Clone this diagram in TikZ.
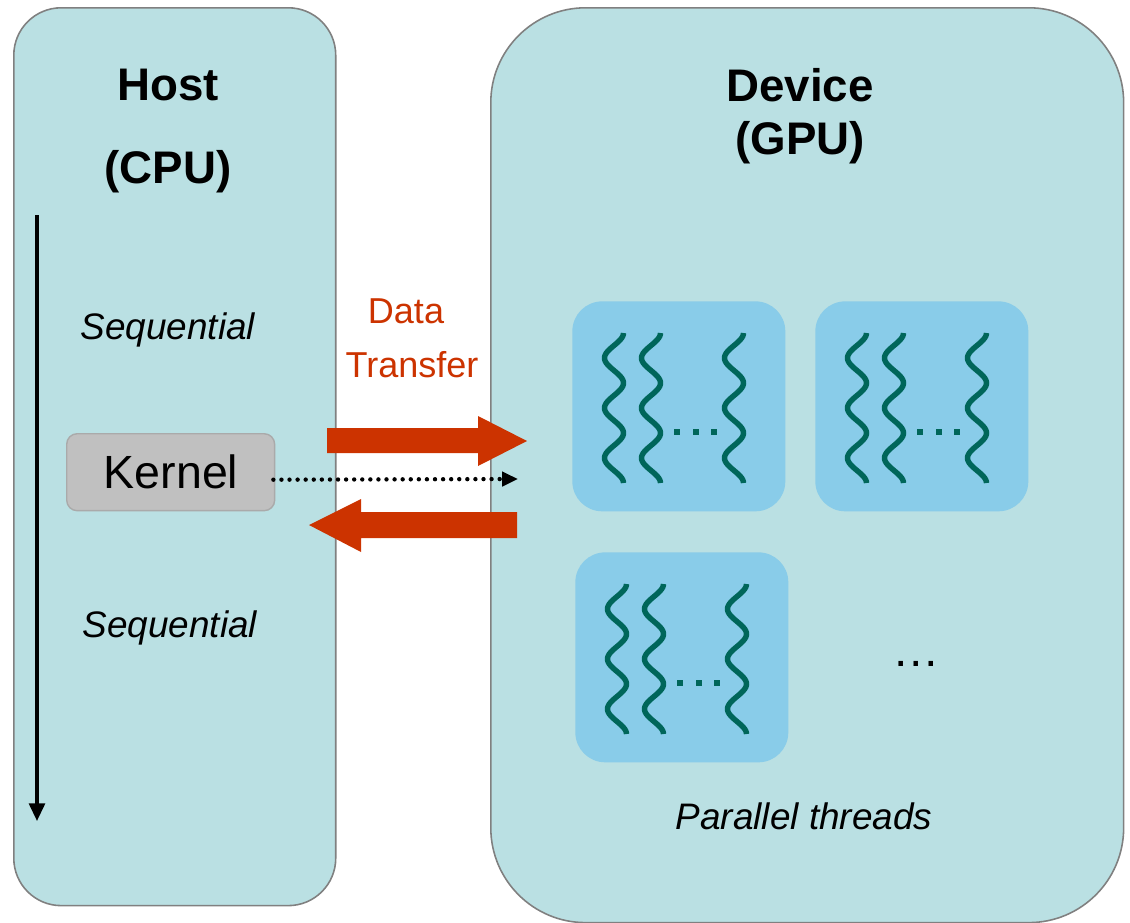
\documentclass[tikz,border=0pt]{standalone}
\usepackage{fontspec}
\setmainfont{Liberation Sans}
\usetikzlibrary{arrows.meta}
\definecolor{panelfill}{RGB}{186,224,227}
\definecolor{panelline}{RGB}{128,128,128}
\definecolor{blockfill}{RGB}{137,204,233}
\definecolor{wavecol}{RGB}{0,102,90}
\definecolor{xferred}{RGB}{204,51,0}
\definecolor{kernfill}{RGB}{192,192,192}
\definecolor{kernline}{RGB}{170,170,170}
\tikzset{
  panel/.style={draw=panelline, line width=0.9pt, fill=panelfill, anchor=north west, inner sep=0pt},
  blockbox/.style={fill=blockfill, rounded corners=17pt, anchor=north west, inner sep=0pt,
    minimum width=4.26cm, minimum height=4.2cm},
  wave/.style={draw=wavecol, line width=3.1pt},
  fatarrow/.style={fill=xferred, draw=none},
  title/.style={font=\fontsize{26}{30}\selectfont\bfseries},
  lbl/.style={font=\fontsize{21}{25}\selectfont\itshape},
  dotarrow/.style={line width=2.5pt, dash pattern=on 0pt off 4.6pt, line cap=round,
    -{Triangle[length=9pt,width=8pt,sep=0pt]}},
}
\newcommand{\wave}[2]{\draw[wave] plot[domain=0:150, samples=91, smooth, variable=\t] ({#1+9.5*cos(\t*7.2)}, {#2+\t});}
\newcommand{\tblock}[3]{%
  \node[blockbox] (#1) at (#2,#3) {};
  \begin{scope}[shift={(#1.north west)}]
    \wave{42}{32}
    \wave{79}{32}
    \wave{162}{32}
    \foreach \d in {105,124,142} {\fill[wavecol] (\d-2.8,128.2) rectangle (\d+2.8,133.8);}
  \end{scope}}
\begin{document}
\begin{tikzpicture}[x=0.02cm, y=-0.02cm]
\useasboundingbox (0,0) rectangle (1130,923);
% panels
\node[panel, rounded corners=27pt, minimum width=6.44cm, minimum height=17.96cm] (host) at (13,7) {};
\node[panel, rounded corners=54pt, minimum width=12.66cm, minimum height=18.3cm] (device) at (490,7) {};
% titles
\node[title] (hosttxt) at (168,85) {Host};
\node[title] (cputxt) at (168,172) {(CPU)};
\node[title] (devtxt) at (800,85) {Device};
\node[title] (gputxt) at (800,143) {(GPU)};
% sequential time arrow
\coordinate (tstart) at (37,215);
\coordinate (tend) at (37,821);
\draw[line width=1.8pt, -{Triangle[length=10pt,width=9pt]}] (tstart) -- (tend);
\node[lbl] (seq1) at (168,330) {Sequential};
\node[lbl] (seq2) at (170,628) {Sequential};
% kernel
\node[draw=kernline, line width=0.8pt, fill=kernfill, rounded corners=6pt, anchor=north west,
  minimum width=4.16cm, minimum height=1.54cm, inner sep=0pt] (kernel) at (66,433) {};
\node[font=\fontsize{26.5}{30}\selectfont] (kerntxt) at (171,472) {Kernel};
\coordinate (dotend) at (518,479);
\draw[dotarrow] ([shift={(-2,7.5)}]kernel.east) -- (dotend);
% data transfer
\node[font=\fontsize{20.5}{24}\selectfont, text=xferred] (data) at (406,311) {Data};
\node[font=\fontsize{20.5}{24}\selectfont, text=xferred] (transfer) at (412,365) {Transfer};
\fill[fatarrow] (327,428) -- (478,428) -- (478,416) -- (527,441) -- (478,466) -- (478,453) -- (327,453) -- cycle;
\fill[fatarrow] (517,512) -- (361,512) -- (361,499) -- (309,525) -- (361,552) -- (361,538) -- (517,538) -- cycle;
% thread blocks
\tblock{b1}{572}{301}
\tblock{b2}{815}{301}
\tblock{b3}{575}{552}
\node[font=\fontsize{27}{30}\selectfont, anchor=base, inner sep=0pt] (more) at (916,666) {…};
\node[lbl] (partxt) at (804,816) {Parallel threads};
\end{tikzpicture}
\end{document}
